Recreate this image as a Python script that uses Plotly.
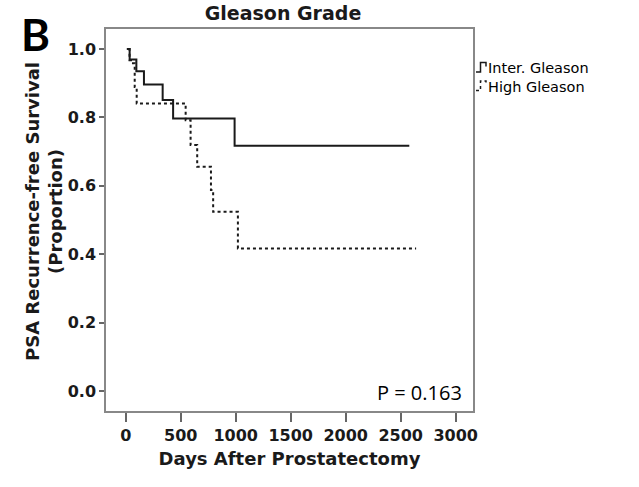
import plotly.graph_objects as go

# Kaplan-Meier step data (days, survival proportion)
inter_days = [10, 36, 97, 166, 336, 431, 990, 2578]
inter_surv = [1.0, 0.969, 0.935, 0.896, 0.851, 0.797, 0.717, 0.717]

high_days = [24, 35, 48, 82, 100, 545, 590, 650, 775, 795, 1020, 2640]
high_surv = [1.0, 0.967, 0.958, 0.889, 0.841, 0.792, 0.719, 0.656, 0.588, 0.524, 0.417, 0.417]

x_ticks = [0, 500, 1000, 1500, 2000, 2500, 3000]
y_ticks = [0.0, 0.2, 0.4, 0.6, 0.8, 1.0]
y_tick_labels = ["0.0", "0.2", "0.4", "0.6", "0.8", "1.0"]

series_names = ["Inter. Gleason", "High Gleason"]
p_text = "P = 0.163"

W, H = 639, 487
ML, MR, MT, MB = 106, 166, 29, 76
PW, PH = W - ML - MR, H - MT - MB


def px(x):
    return (x - ML) / PW


def py(y):
    return (H - MB - y) / PH


fig = go.Figure()
fig.add_trace(go.Scatter(x=inter_days, y=inter_surv, mode="lines", line_shape="hv",
                         line=dict(color="#1a1a1a", width=2), name=series_names[0],
                         showlegend=False))
fig.add_trace(go.Scatter(x=high_days, y=high_surv, mode="lines", line_shape="hv",
                         line=dict(color="#1a1a1a", width=2, dash="dot"), name=series_names[1],
                         showlegend=False))

tickf = dict(family="DejaVu Sans", size=16, color="#1a1a1a", weight="bold")

fig.update_layout(
    width=W, height=H,
    margin=dict(l=ML, r=MR, t=MT, b=MB),
    paper_bgcolor="white", plot_bgcolor="white",
    xaxis=dict(range=[-179, 3157], tickvals=x_ticks, ticks="outside", ticklen=9,
               tickcolor="#666", tickwidth=1.5, showgrid=False, zeroline=False,
               showline=True, linecolor="#888", linewidth=1.5, mirror=True,
               tickfont=tickf, automargin=False,
               title=dict(text="Days After Prostatectomy", standoff=8,
                          font=dict(family="DejaVu Sans", size=18, color="#1a1a1a", weight="bold"))),
    yaxis=dict(range=[-0.0585, 1.0585], tickvals=y_ticks, ticktext=y_tick_labels,
               ticks="outside", ticklen=5, tickcolor="#666", tickwidth=1.5,
               showgrid=False, zeroline=False, showline=True, linecolor="#888",
               linewidth=1.5, mirror=True, tickfont=tickf, automargin=False),
    title=dict(text="Gleason Grade", xref="paper", x=px(283), xanchor="center",
               yref="container", y=1 - 13 / H, yanchor="middle",
               font=dict(family="DejaVu Sans", size=19, color="#1a1a1a", weight="bold")),
    showlegend=False,
)

ann = []
ann.append(dict(text="PSA Recurrence-free Survival<br>(Proportion)", xref="paper", yref="paper",
                x=px(44), y=py(212), textangle=-90, showarrow=False, xanchor="center", yanchor="middle",
                font=dict(family="DejaVu Sans", size=18, color="#1a1a1a", weight="bold")))
ann.append(dict(text="B", xref="paper", yref="paper", x=px(19), y=py(34), showarrow=False,
                xanchor="left", yanchor="middle",
                font=dict(family="Lato", size=44, color="black", weight="bold")))
ann.append(dict(text=p_text, xref="paper", yref="paper", x=px(464), y=py(392), showarrow=False,
                xanchor="right", yanchor="middle",
                font=dict(family="Open Sans", size=20, color="black")))
ann.append(dict(text="<br>".join(series_names), xref="paper", yref="paper", x=px(486), y=py(77.5),
                showarrow=False, xanchor="left", yanchor="middle", align="left",
                font=dict(family="DejaVu Sans", size=14.5, color="black")))
fig.update_layout(annotations=ann)


def step_path(yb, yt):
    pts = [(476, yb), (480.5, yb), (480.5, yt), (486, yt), (486, yt + 4)]
    return "M " + " L ".join(f"{px(a):.5f},{py(b):.5f}" for a, b in pts)


fig.add_shape(type="path", xref="paper", yref="paper", path=step_path(72, 62.5),
              line=dict(color="#1a1a1a", width=1.5))
fig.add_shape(type="path", xref="paper", yref="paper", path=step_path(90.5, 81),
              line=dict(color="#1a1a1a", width=1.5, dash="dot"))

fig.write_html("out.html", config={"displayModeBar": False},
               post_script="document.body.style.margin='0px';")
